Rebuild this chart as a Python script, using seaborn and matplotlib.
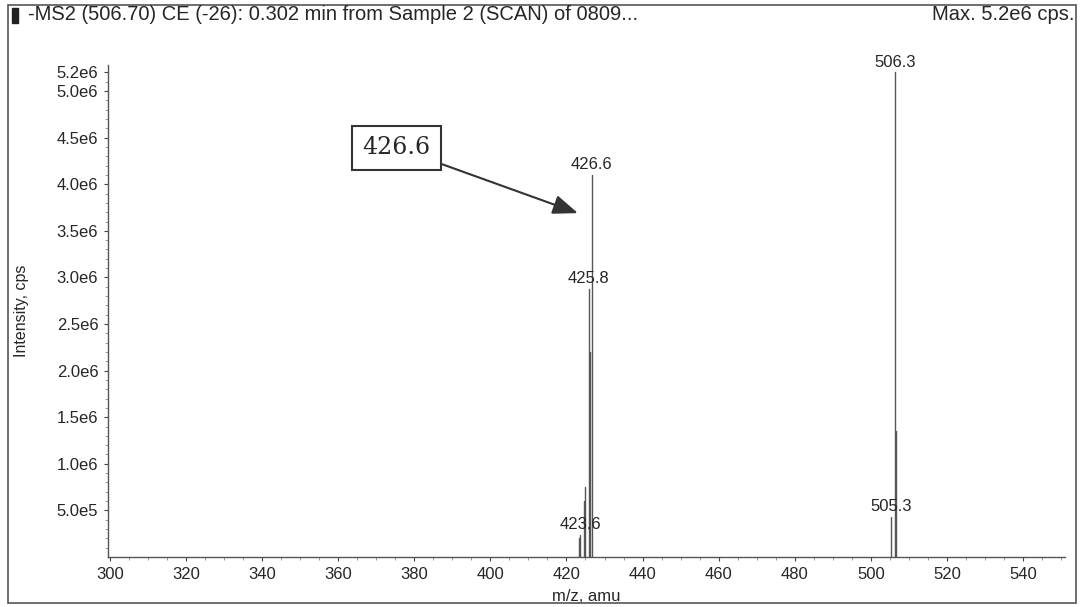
import numpy as np
import pandas as pd
import seaborn as sns
import matplotlib.pyplot as plt
from matplotlib.patches import Rectangle

# peak list (m/z, intensity in cps)
mz = [423.2, 423.6, 424.6, 425.0, 425.8, 426.1, 426.6, 505.3, 506.3, 506.7]
intensity = [0.20e6, 0.24e6, 0.60e6, 0.75e6, 2.88e6, 2.2e6, 4.1e6, 0.43e6, 5.2e6, 1.35e6]
labeled = [423.6, 425.8, 426.6, 505.3, 506.3]

ytick_vals = [5e5, 1e6, 1.5e6, 2e6, 2.5e6, 3e6, 3.5e6, 4e6, 4.5e6, 5e6, 5.2e6]
ytick_text = ['5.0e5', '1.0e6', '1.5e6', '2.0e6', '2.5e6', '3.0e6', '3.5e6',
              '4.0e6', '4.5e6', '5.0e6', '5.2e6']
xtick_vals = list(range(300, 541, 20))

sns.set_style('white')
plt.rcParams['font.family'] = ['Liberation Sans', 'DejaVu Sans']

# each stick becomes two points joined by a line
rows = []
for i, (m, v) in enumerate(zip(mz, intensity)):
    rows.append({'peak': i, 'mz': m, 'intensity': 0.0})
    rows.append({'peak': i, 'mz': m, 'intensity': v})
df = pd.DataFrame(rows)

fig = plt.figure(figsize=(10.8, 6.07), dpi=100)
ax = fig.add_axes([0.1, 0.0824, 0.886, 0.8106])

sns.lineplot(data=df, x='mz', y='intensity', units='peak', estimator=None,
             color='#555555', lw=1.0, ax=ax, legend=False)

ax.set_xlim(299.5, 551)
ax.set_ylim(0, 5.28e6)
ax.set_xticks(xtick_vals)
ax.set_xticks(np.arange(300, 551, 5), minor=True)
ax.set_yticks(ytick_vals)
ax.set_yticklabels(ytick_text)
ax.set_yticks(np.arange(1e5, 5.25e6, 1e5), minor=True)
ax.tick_params(axis='both', which='major', labelsize=12, length=3,
               direction='out', color='#444444', pad=4)
ax.tick_params(axis='both', which='minor', length=2, direction='out',
               color='#888888')
ax.tick_params(axis='x', which='both', bottom=True)
ax.tick_params(axis='y', which='both', left=True)

for side in ['top', 'right']:
    ax.spines[side].set_visible(False)
for side in ['left', 'bottom']:
    ax.spines[side].set_color('#555555')
    ax.spines[side].set_linewidth(1.0)

ax.set_xlabel('m/z, amu', fontsize=12, labelpad=5)
ax.set_ylabel('Intensity, cps', fontsize=11.5, labelpad=20)

for m, v in zip(mz, intensity):
    if m in labeled:
        ax.annotate(f'{m:.1f}', xy=(m, v), xytext=(0, 2),
                    textcoords='offset points', ha='center', va='bottom',
                    fontsize=12, annotation_clip=False)

ax.annotate('426.6', xy=(423.0, 3.69e6), xytext=(375.4, 4.39e6),
            fontsize=17, family='DejaVu Serif', ha='center', va='center',
            bbox=dict(boxstyle='square,pad=0.45', fc='white', ec='#333333', lw=1.5),
            arrowprops=dict(arrowstyle='-|>,head_length=0.9,head_width=0.35',
                            color='#333333', lw=1.5, shrinkA=0, shrinkB=0))

# title row and outer frame
fig.text(28 / 1080, 1 - 15 / 607,
         '-MS2 (506.70) CE (-26): 0.302 min from Sample 2 (SCAN) of 0809...',
         fontsize=14.5, ha='left', va='center')
fig.text(1074 / 1080, 1 - 15 / 607, 'Max. 5.2e6 cps.', fontsize=14.5,
         ha='right', va='center')
fig.patches.append(Rectangle((12 / 1080, 1 - 23 / 607), 6 / 1080, 15 / 607,
                             transform=fig.transFigure, color='#222222'))
fig.patches.append(Rectangle((8 / 1080, 4 / 607), 1068 / 1080, 598 / 607,
                             transform=fig.transFigure, fill=False,
                             ec='#555555', lw=1.2))

fig.savefig('out.png', dpi=100)
